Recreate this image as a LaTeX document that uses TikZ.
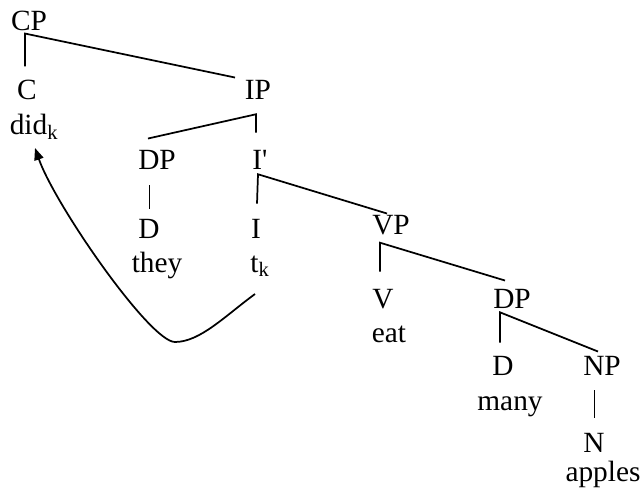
\documentclass[tikz,border=0pt]{standalone}
\usepackage{fontspec}
\setmainfont{Liberation Serif}
\usetikzlibrary{calc, arrows.meta}

\tikzset{
	lab/.style={anchor=base, inner sep=0pt, font=\fontsize{22}{26}\selectfont},
	branch/.style={line width=1.3pt},
	bar/.style={line width=0.6pt}
}

\begin{document}
\begin{tikzpicture}[x=0.75pt, y=-0.75pt]
	\useasboundingbox (0,0) rectangle (641,488);
	
	% labels
	\node [lab] (cp) at (29,31) {CP};
	\node [lab] (c) at (27,100) {C};
	\node [lab] (did) at (34,135) {did\textsubscript{k}};
	\node [lab] (ip) at (258,100) {IP};
	\node [lab] (dp) at (157,170) {DP};
	\node [lab] (ibar) at (260,170) {I\textquotesingle};
	\node [lab] (d1) at (149,238) {D};
	\node [lab] (they) at (157,272) {they};
	\node [lab] (i) at (256,238) {I};
	\node [lab] (tk) at (260,272) {t\textsubscript{k}};
	\node [lab] (vp) at (391,234) {VP};
	\node [lab] (v) at (383,308) {V};
	\node [lab] (eat) at (389,342) {eat};
	\node [lab] (dp2) at (512,308) {DP};
	\node [lab] (d2) at (503,375) {D};
	\node [lab] (many) at (510,410) {many};
	\node [lab] (np) at (602,375) {NP};
	\node [lab] (n) at (594,452) {N};
	\node [lab] (apples) at (603,481) {apples};
	
	% branches
	\draw [branch] ($(c.north)+(-2,-14)$) -- ($(cp.south)+(-4,2)$) -- ($(ip.north)+(-23,-3)$);
	\draw [branch] ($(dp.north)+(-9,-12)$) -- ($(ip.south)+(-2,14)$) -- ($(ibar.north)+(-4,-18)$);
	\draw [bar] ($(dp.south)+(-8,15)$) -- ($(d1.north)+(0,-10)$);
	\draw [branch] ($(i.north)+(1,-15)$) -- ($(ibar.south)+(-2,4)$) -- ($(vp.north)+(-4,-1)$);
	\draw [branch] ($(v.north)+(-3,-17)$) -- ($(vp.south)+(-11,8)$) -- ($(dp2.north)+(-7,-8)$);
	\draw [branch] ($(d2.north)+(-3,-13)$) -- ($(dp2.south)+(-12,4)$) -- ($(np.north)+(-4,-4)$);
	\draw [bar] ($(np.south)+(-8,15)$) -- ($(n.north)+(0,-15)$);
	
	% movement
	\draw [branch, -{Triangle[length=9pt, width=7pt]}] ($(tk.base)+(-5,22)$)
		.. controls (225,316) and (200,342) .. (175,342)
		.. controls (150,342) and (55,205) .. ($(did.base)+(1,13)$);
\end{tikzpicture}
\end{document}
